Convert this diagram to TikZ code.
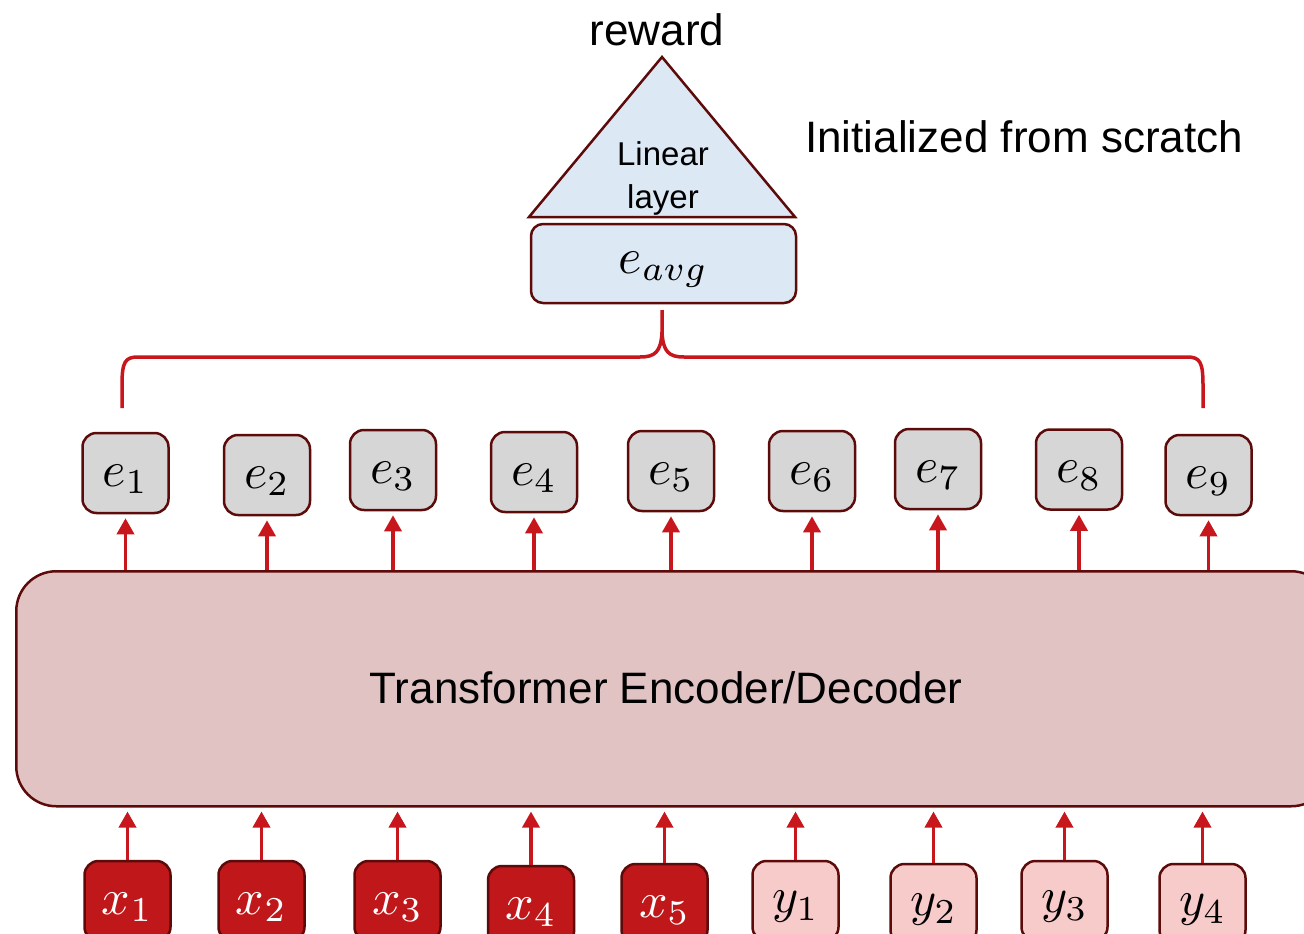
\documentclass[tikz,border=0pt]{standalone}
\usepackage{graphicx}
\usepackage{fontspec}
\newfontfamily\labelfont{Liberation Sans}
\usetikzlibrary{arrows.meta}

% math symbols set large by scaling the 10pt math fonts, nudged down a little
\newcommand{\bigmath}[1]{\scalebox{5}{\raisebox{-1.2pt}[\height][\depth]{$#1$}}}

\definecolor{arrowred}{HTML}{C8161D}
\definecolor{edgebrown}{HTML}{5C0A0A}
\definecolor{embgray}{HTML}{D6D6D6}
\definecolor{headblue}{HTML}{DDE8F5}
\definecolor{encpink}{HTML}{E1C3C4}
\definecolor{srcred}{HTML}{C0171A}
\definecolor{tgtpink}{HTML}{F8CBCB}

\tikzset{
  token/.style={draw=edgebrown, line width=2.5pt, rounded corners=14pt,
    minimum width=86pt, minimum height=80pt, inner sep=0pt},
  emb/.style={token, fill=embgray},
  src/.style={token, fill=srcred, text=white},
  tgt/.style={token, fill=tgtpink},
  flow/.style={draw=arrowred, line width=3.5pt,
    -{Triangle[width=17pt,length=16pt]}, shorten >=4pt},
  bracket/.style={draw=arrowred, line width=3.5pt},
  label/.style={font=\labelfont\fontsize{44}{50}\selectfont, inner sep=0pt}
}

\begin{document}
\begin{tikzpicture}[x=1pt, y=-1pt]
\useasboundingbox (0,0) rectangle (1304,934);
\clip (0,0) rectangle (1304,934);

% encoder/decoder block (runs off the right edge)
\node[draw=edgebrown, line width=2.5pt, fill=encpink, rounded corners=40pt,
  minimum width=1315pt, minimum height=235pt, anchor=north west] (tf) at (15,570) {};
\node[label] (tftext) at (666,688) {Transformer Encoder/Decoder};

% output embeddings
\node[emb] (e1) at (125.5,473) {\bigmath{e_1}};
\node[emb] (e2) at (267,475) {\bigmath{e_2}};
\node[emb] (e3) at (393,470) {\bigmath{e_3}};
\node[emb] (e4) at (534,472) {\bigmath{e_4}};
\node[emb] (e5) at (671,471) {\bigmath{e_5}};
\node[emb] (e6) at (812,471) {\bigmath{e_6}};
\node[emb] (e7) at (938,469) {\bigmath{e_7}};
\node[emb] (e8) at (1079,469.5) {\bigmath{e_8}};
\node[emb] (e9) at (1208.5,475) {\bigmath{e_9}};

% input tokens
\node[src] (x1) at (127.5,901) {\bigmath{x_1}};
\node[src] (x2) at (261.5,901) {\bigmath{x_2}};
\node[src] (x3) at (397.5,901) {\bigmath{x_3}};
\node[src] (x4) at (531,906) {\bigmath{x_4}};
\node[src] (x5) at (664.5,904) {\bigmath{x_5}};
\node[tgt] (y1) at (795.5,901) {\bigmath{y_1}};
\node[tgt] (y2) at (933.5,904) {\bigmath{y_2}};
\node[tgt] (y3) at (1064.5,901) {\bigmath{y_3}};
\node[tgt] (y4) at (1202.5,904) {\bigmath{y_4}};

% arrows into the block
\foreach \t in {x1,x2,x3,x4,x5,y1,y2,y3,y4}
  \draw[flow] (\t.north) -- (\t.north |- tf.south);

% arrows out of the block
\foreach \t in {e1,e2,e3,e4,e5,e6,e7,e8,e9}
  \draw[flow] (\t.south |- tf.north) -- (\t.south);

% pooled embedding and linear head
\node[draw=edgebrown, line width=2.5pt, fill=headblue, rounded corners=12pt,
  minimum width=265pt, minimum height=79pt, inner sep=0pt]
  (eavg) at (663.5,263.5) {\bigmath{e_{avg}}};

\coordinate (apex) at (662,57);
\coordinate (baseR) at (795,217);
\coordinate (baseL) at (529,217);
\draw[draw=edgebrown, line width=2.5pt, fill=headblue, line join=miter]
  (apex) -- (baseR) -- (baseL) -- cycle;
\node[font=\labelfont\fontsize{33}{43}\selectfont, align=center, inner sep=0pt]
  (lin) at (663,178) {Linear\\layer};

\node[label] (reward) at (657,30) {reward};
\node[label, anchor=west] (init) at (805,137) {Initialized from scratch};

% averaging bracket from the embeddings to e_avg
\coordinate (bl) at (122,408);
\coordinate (br) at (1203,408);
\coordinate (tip) at (662,310);
\draw[bracket] (bl) -- (122,385) .. controls (122,362) and (125,357) .. (138,357)
  -- (640,357) .. controls (655,357) and (661,352) .. (662,332) -- (tip);
\draw[bracket] (br) -- (1203,385) .. controls (1203,362) and (1200,357) .. (1187,357)
  -- (684,357) .. controls (669,357) and (663,352) .. (662,332);
\end{tikzpicture}
\end{document}
